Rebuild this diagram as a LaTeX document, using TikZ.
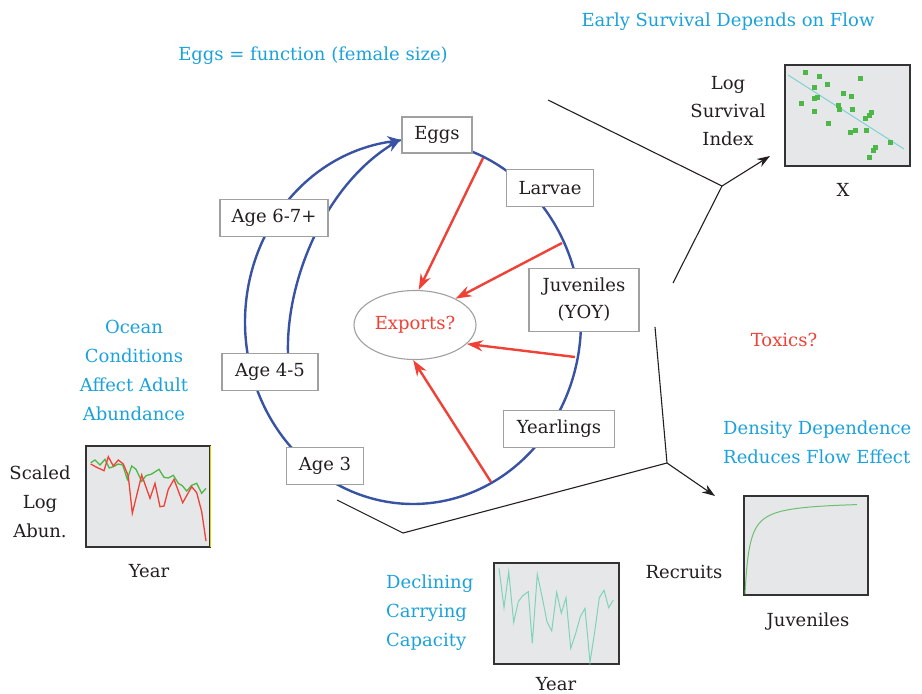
\documentclass[tikz,border=0pt]{standalone}
\usepackage{fontspec}
\setmainfont{DejaVu Serif}
\usetikzlibrary{arrows.meta,shapes.geometric}
\definecolor{cyantxt}{HTML}{1BA1DB}
\definecolor{redc}{HTML}{EF4136}
\definecolor{bluec}{HTML}{3953A4}
\definecolor{textdark}{HTML}{231F20}
\definecolor{boxgray}{HTML}{A0A0A0}
\definecolor{plotfill}{HTML}{E6E7E8}
\definecolor{plotedge}{HTML}{333333}
\definecolor{greenc}{HTML}{4DB848}
\definecolor{greenl}{HTML}{6CC070}
\definecolor{tealc}{HTML}{7FD4B8}
\definecolor{cyanl}{HTML}{7FD1D6}
\definecolor{yell}{HTML}{E0CC00}
\begin{document}
\begin{tikzpicture}[x=1pt,y=-1pt,
  font=\fontsize{18}{29}\selectfont,
  stagebox/.style={draw=boxgray,line width=1.3pt,fill=white,inner sep=0pt,text=textdark,align=center},
  lab/.style={inner sep=0pt,text=textdark,align=center},
  cyanlab/.style={inner sep=0pt,text=cyantxt},
  cyclearc/.style={draw=bluec,line width=2.4pt,-{Stealth[length=15pt,width=11pt]}},
  exportarrow/.style={draw=redc,line width=2.4pt,-{Stealth[length=16pt,width=11pt]}},
  blackline/.style={draw=textdark,line width=1.1pt},
  blackarrow/.style={blackline,-{Stealth[length=13pt,width=9pt]}},
  plotbox/.style={fill=plotfill,draw=plotedge,line width=2.4pt},
  dot/.style={fill=greenc,draw=none}
]
\useasboundingbox (0,0) rectangle (922,694);

% ---------- life cycle circle ----------
\draw[draw=bluec,line width=2.4pt,{Stealth[length=15pt,width=11pt]}-]
  plot[domain=-266.3:69.4,samples=180,smooth] ({413+168*cos(\x)},{322-182*sin(\x)});
\coordinate (innerstart) at (288,353);
\coordinate (innerend) at (401,139);
\draw[cyclearc] (innerstart) .. controls (286,280) and (325,185) .. (innerend);

% ---------- stage nodes ----------
\node[stagebox,minimum width=70pt,minimum height=36pt] (eggs) at (437,135) {Eggs};
\node[stagebox,minimum width=87pt,minimum height=37pt] (larvae) at (550,188) {Larvae};
\node[stagebox,minimum width=108pt,minimum height=37pt] (age67) at (274,218) {Age 6-7+};
\node[stagebox,minimum width=110pt,minimum height=63pt,font=\fontsize{18}{27}\selectfont] (juv) at (584,300) {Juveniles\\(YOY)};
\node[stagebox,minimum width=96pt,minimum height=37pt] (age45) at (270,372) {Age 4-5};
\node[stagebox,minimum width=111pt,minimum height=37pt] (yearl) at (559,429) {Yearlings};
\node[stagebox,minimum width=77pt,minimum height=37pt] (age3) at (325,466) {Age 3};
\node[ellipse,draw=boxgray,line width=1.1pt,fill=white,inner sep=0pt,
      minimum width=122pt,minimum height=69pt,text=redc] (exports) at (415,325) {Exports?};

% ---------- export arrows ----------
\coordinate (e1) at (483,158);
\coordinate (e2) at (562,243);
\coordinate (e3) at (575,357);
\coordinate (e4) at (491,482);
\draw[exportarrow] (e1) -- (exports.84);
\draw[exportarrow] (e2) -- (exports.33);
\draw[exportarrow] (e3) -- (exports.-20);
\draw[exportarrow] (e4) -- (exports.-93);

% ---------- black connectors ----------
\coordinate (t0) at (548,100);
\coordinate (j1) at (722,186);
\coordinate (t1) at (770,156);
\coordinate (t2) at (673,283);
\draw[blackline] (t0) -- (j1) -- (t2);
\draw[blackarrow] (j1) -- (t1);
\coordinate (b0) at (337,500);
\coordinate (b1) at (403,533);
\coordinate (j2) at (667,463);
\coordinate (b2) at (655,327);
\coordinate (b3) at (715,496);
\draw[blackline] (b0) -- (b1) -- (j2) -- (b2);
\draw[blackarrow] (j2) -- (b3);

% ---------- texts ----------
\node[cyanlab] (title1) at (728,22) {Early Survival Depends on Flow};
\node[cyanlab] (title2) at (313,56) {Eggs = function (female size)};
\node[lab] (logsurv) at (728,111) {Log\\[-1pt]Survival\\[-1pt]Index};
\node[lab] (xlab) at (843,190) {X};
\node[inner sep=0pt,text=redc] (toxics) at (784,340) {Toxics?};
\node[cyanlab,align=center] (ocean) at (134,370) {Ocean\\Conditions\\Affect Adult\\Abundance};
\node[lab] (scaled) at (40,502) {Scaled\\Log\\Abun.};
\node[lab] (year1) at (149,571) {Year};
\node[cyanlab,align=left,anchor=west] (density) at (723,442) {Density Dependence\\Reduces Flow Effect};
\node[cyanlab,align=left,anchor=west] (declining) at (386,613) {Declining\\Carrying\\Capacity};
\node[lab] (year2) at (556,684) {Year};
\node[lab] (recruits) at (684,572) {Recruits};
\node[lab] (juvlab) at (808,622) {Juveniles};

% ---------- scatter plot ----------
\draw[plotbox] (785,65) rectangle (910,166);
\draw[cyanl,line width=1pt] (788,75) -- (904,149);
\foreach \px/\py in {805.3/72.3,819.3/76,860.3/78.3,814.3/87.3,827.3/84.3,843.3/93.3,851.3/96.3,
  801.3/103.3,814.3/98.3,817.3/97.3,838.3/105.3,839.3/109.3,852.3/109.3,814.3/111.3,871.3/112.3,
  869.3/115.3,865.3/118.3,828.3/123.3,855.3/130.3,850.3/132.3,866.3/130.3,890.3/142.3,875.3/147.3,
  873.3/150.3,869.3/157.3}
  \fill[dot] (\px-2.5,\py-2.5) rectangle (\px+2.5,\py+2.5);

% ---------- abundance plot ----------
\draw[plotbox] (86,446) rectangle (210,547);
\draw[yell,line width=1.2pt] (210.5,446) -- (210.5,547);
\draw[greenc,line width=1.3pt] plot coordinates {(90.7,462.7) (95,460) (100,465) (105,459.3) (109.3,468)
  (113.3,466.7) (118.3,464) (122.7,465) (127.3,479.3) (131.7,466) (136,469.3) (141.7,481.3) (146,475.7)
  (151.7,474) (159,469.3) (164,477.3) (168.3,478) (173.3,475.3) (178.3,483.3) (182.3,485.7) (186.7,491)
  (191.7,485.3) (196.7,483.3) (201.7,493.3) (206,488.3)};
\draw[redc,line width=1.3pt] plot coordinates {(90.7,464) (96.7,467.3) (104,470.7) (108.3,456.7)
  (113.3,466) (118.3,460) (123.3,464) (128.3,476) (132.3,513.3) (141.7,475) (150,498.3) (155,483.3)
  (160,506.7) (164,506) (168.3,489.3) (174,479.3) (182.7,502.7) (191.7,486.7) (196.7,492.7)
  (201.7,511.7) (206,541)};

% ---------- carrying capacity plot ----------
\draw[plotbox] (494,563) rectangle (619,664);
\draw[tealc,line width=1pt] plot coordinates {(499,568.3) (504,607.7) (508.7,571.7) (513.7,622.3)
  (518.3,601.7) (522.7,595.7) (528.3,591.7) (532.3,643.3) (537.3,574.3) (542.3,597.7) (547,621.7)
  (551.7,631) (556.7,592.3) (561.3,613.3) (566,597.7) (570.7,648.3) (575.7,633.3) (580.3,616.7)
  (585,608.3) (590,662.3) (594.7,631.7) (599.3,597.7) (604,590.3) (608.7,607.7) (613.3,600)};

% ---------- density dependence plot ----------
\draw[plotbox] (744,496) rectangle (868,595);
\draw[greenl,line width=1pt] plot[domain=0:112,samples=120] ({745+\x},{594-93*\x/(4.5+\x)});

\end{tikzpicture}
\end{document}
